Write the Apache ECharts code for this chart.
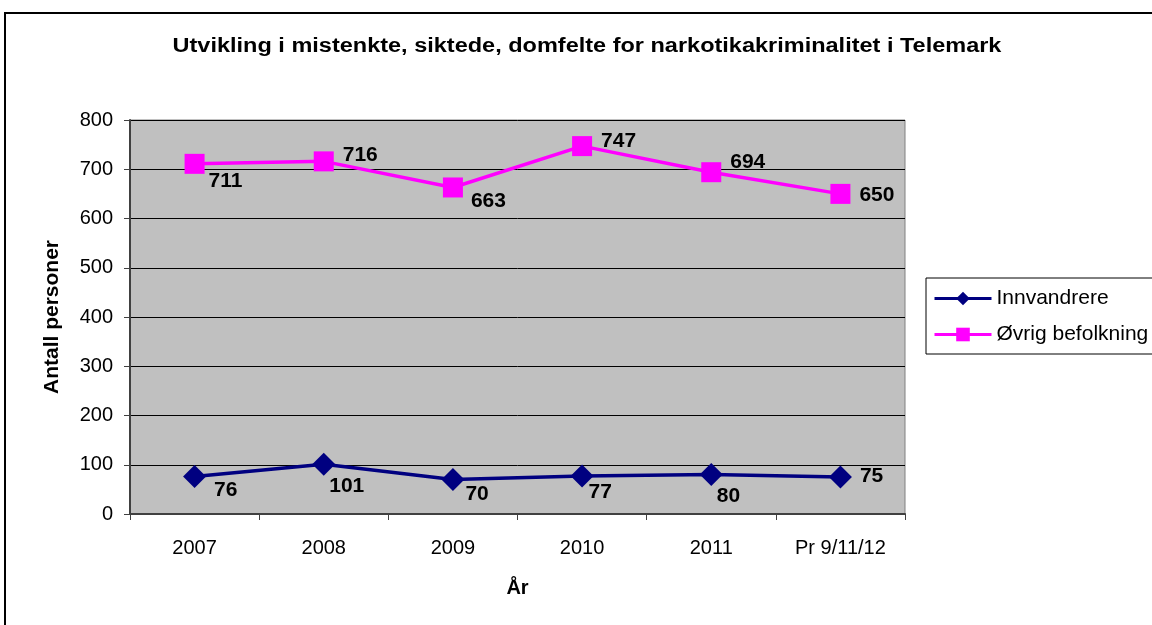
<!DOCTYPE html>
<html><head><meta charset="utf-8">
<script src="https://cdn.jsdelivr.net/npm/echarts@6/dist/echarts.min.js"></script>
<style>html,body{margin:0;padding:0;background:#fff}#c{width:1152px;height:625px}</style>
</head><body><div id="c"></div>
<script>
const categories = ['2007','2008','2009','2010','2011','Pr 9/11/12'];
const innvandrere = [76,101,70,77,80,75];
const ovrig = [711,716,663,747,694,650];
const yTicks = [0,100,200,300,400,500,600,700,800];
const titleText = 'Utvikling i mistenkte, siktede, domfelte for narkotikakriminalitet i Telemark';

// label offsets (layout only)
const innOffsets = [[8,14],[-6,22],[1,15],[-5,16],[-6,22],[8,-1]];
const ovrOffsets = [[4,17],[9,-6],[8,14],[9,-5],[9,-10],[9,1]];

const font = 'Liberation Sans, Arial, sans-serif';
const chart = echarts.init(document.getElementById('c'));
function mk(vals, offs){
  return vals.map((v,i)=>({value:v,label:{offset:offs[i]}}));
}
chart.setOption({
  animation:false,
  backgroundColor:'#fff',
  graphic:[
    {type:'rect',shape:{x:5,y:13,width:1160,height:640},
      style:{fill:'none',stroke:'#000',lineWidth:2},silent:true,z:-1},
    {type:'text',x:587,y:46,scaleX:1.175,silent:true,
      style:{text:titleText,font:'bold 20px "Liberation Sans", Arial, sans-serif',fill:'#000',
        align:'center',verticalAlign:'middle',textAlign:'center',textVerticalAlign:'middle'}}
  ],
  legend:{orient:'vertical',left:926,top:278,itemGap:15,itemWidth:57,itemHeight:17,
    padding:[10,10,9,7],borderColor:'#000',borderWidth:1,
    lineStyle:{width:3},
    textStyle:{fontFamily:font,fontSize:21,color:'#000'},
    data:['Innvandrere','Øvrig befolkning']},
  grid:{left:130,right:247,top:120,bottom:111,show:true,backgroundColor:'#C0C0C0',
    borderColor:'#808080',borderWidth:1},
  xAxis:{type:'category',data:categories,boundaryGap:true,
    name:'År',nameLocation:'middle',nameGap:64,
    nameTextStyle:{fontFamily:font,fontSize:20,fontWeight:'bold',color:'#000'},
    axisLine:{lineStyle:{color:'#404040',width:2}},
    axisTick:{show:true,length:6,lineStyle:{color:'#404040'}},
    axisLabel:{fontFamily:font,fontSize:20,color:'#000',margin:24}},
  yAxis:{type:'value',min:yTicks[0],max:yTicks[yTicks.length-1],interval:100,
    name:'Antall personer',nameLocation:'middle',nameGap:67,
    nameTextStyle:{fontFamily:font,fontSize:21,fontWeight:'bold',color:'#000'},
    axisLine:{show:true,lineStyle:{color:'#404040',width:2}},
    axisTick:{show:true,length:6,lineStyle:{color:'#404040'}},
    axisLabel:{fontFamily:font,fontSize:20,color:'#000',margin:17},
    splitLine:{show:true,lineStyle:{color:'#000',width:1}}},
  series:[
    {name:'Innvandrere',type:'line',data:mk(innvandrere,innOffsets),
      symbol:'diamond',symbolSize:23,color:'#000080',
      lineStyle:{width:3.5,color:'#000080'},itemStyle:{color:'#000080'},
      label:{show:true,position:'right',distance:0,fontFamily:font,fontSize:21,fontWeight:'bold',color:'#000'}},
    {name:'Øvrig befolkning',type:'line',data:mk(ovrig,ovrOffsets),
      symbol:'rect',symbolSize:20,color:'#FF00FF',
      lineStyle:{width:3.5,color:'#FF00FF'},itemStyle:{color:'#FF00FF'},
      label:{show:true,position:'right',distance:0,fontFamily:font,fontSize:21,fontWeight:'bold',color:'#000'}}
  ]
});
</script></body></html>
